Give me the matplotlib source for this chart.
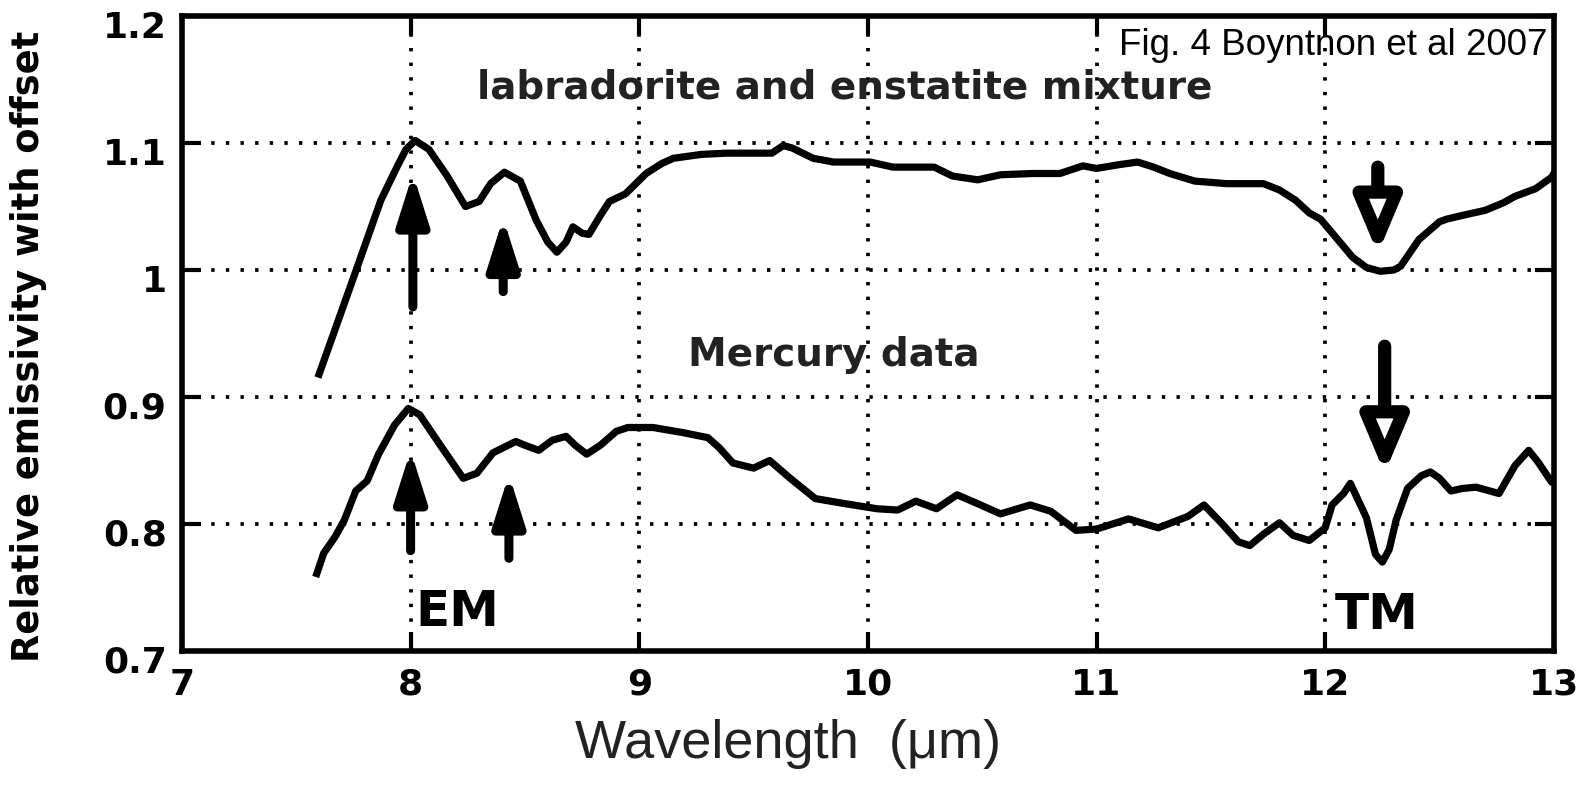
import matplotlib
matplotlib.use("Agg")
import matplotlib.pyplot as plt
from matplotlib.transforms import ScaledTranslation

# emissivity spectra (with offset)
mix_wl = [7.60, 7.77, 7.87, 7.94, 7.98, 8.02, 8.08, 8.16, 8.24, 8.30, 8.35, 8.41,
          8.48, 8.55, 8.60, 8.64, 8.68, 8.71, 8.75, 8.78, 8.83, 8.87, 8.94, 9.03,
          9.10, 9.15, 9.27, 9.38, 9.50, 9.58, 9.63, 9.67, 9.76, 9.85, 10.01, 10.11,
          10.29, 10.37, 10.48, 10.58, 10.72, 10.84, 10.94, 11.00, 11.10, 11.18, 11.25,
          11.32, 11.43, 11.57, 11.73, 11.80, 11.87, 11.93, 11.98, 12.05, 12.12, 12.18,
          12.24, 12.30, 12.33, 12.41, 12.50, 12.53, 12.60, 12.70, 12.78, 12.83, 12.92,
          12.99, 13.00]
mix_em = [0.918, 1.004, 1.055, 1.081, 1.095, 1.102, 1.095, 1.074, 1.050, 1.054, 1.068, 1.077,
          1.070, 1.039, 1.022, 1.014, 1.022, 1.034, 1.029, 1.028, 1.043, 1.054, 1.060, 1.076,
          1.084, 1.088, 1.091, 1.092, 1.092, 1.092, 1.098, 1.096, 1.088, 1.085, 1.085, 1.081,
          1.081, 1.074, 1.071, 1.075, 1.076, 1.076, 1.082, 1.080, 1.083, 1.085, 1.081,
          1.076, 1.070, 1.068, 1.068, 1.063, 1.055, 1.045, 1.040, 1.025, 1.010, 1.002,
          0.999, 1.000, 1.003, 1.024, 1.038, 1.040, 1.043, 1.047, 1.053, 1.058, 1.064,
          1.073, 1.076]

merc_wl = [7.59, 7.62, 7.67, 7.71, 7.76, 7.81, 7.86, 7.93, 7.99, 8.04, 8.13, 8.23,
           8.29, 8.36, 8.46, 8.50, 8.56, 8.62, 8.68, 8.72, 8.77, 8.83, 8.90, 8.95,
           9.06, 9.19, 9.30, 9.35, 9.41, 9.50, 9.57, 9.66, 9.77, 9.90, 10.04, 10.13,
           10.21, 10.30, 10.39, 10.48, 10.58, 10.71, 10.80, 10.91, 11.00, 11.14, 11.27,
           11.40, 11.47, 11.55, 11.62, 11.67, 11.73, 11.80, 11.86, 11.93, 12.00, 12.03,
           12.08, 12.11, 12.18, 12.22, 12.25, 12.28, 12.31, 12.36, 12.42, 12.46, 12.50,
           12.55, 12.60, 12.66, 12.72, 12.76, 12.83, 12.89, 12.93, 12.99, 13.00]
merc_em = [0.761, 0.777, 0.790, 0.803, 0.826, 0.834, 0.855, 0.878, 0.891, 0.886, 0.862, 0.836,
           0.840, 0.856, 0.865, 0.862, 0.858, 0.866, 0.869, 0.862, 0.855, 0.862, 0.873, 0.876,
           0.876, 0.872, 0.868, 0.860, 0.848, 0.844, 0.850, 0.836, 0.820, 0.816, 0.812, 0.811,
           0.818, 0.812, 0.823, 0.816, 0.808, 0.815, 0.810, 0.795, 0.796, 0.804, 0.797,
           0.806, 0.815, 0.800, 0.786, 0.783, 0.792, 0.801, 0.791, 0.787, 0.797, 0.815,
           0.824, 0.832, 0.805, 0.776, 0.770, 0.780, 0.803, 0.828, 0.838, 0.841, 0.836,
           0.826, 0.828, 0.829, 0.826, 0.824, 0.846, 0.858, 0.849, 0.833, 0.835]

# feature arrows: x, tail y, tip y
em_arrows = [(8.01, 0.971, 1.076), (8.405, 0.983, 1.041),
             (8.00, 0.779, 0.858), (8.43, 0.773, 0.839)]
tm_arrows = [(12.23, 1.081, 1.013), (12.26, 0.940, 0.840)]

xticks = [7, 8, 9, 10, 11, 12, 13]
yticks = [0.7, 0.8, 0.9, 1.0, 1.1, 1.2]
ytick_labels = ["0.7", "0.8", "0.9", "1", "1.1", "1.2"]

plt.rcParams['font.family'] = ['Liberation Sans', 'DejaVu Sans']
BOLD = ['DejaVu Sans']

fig = plt.figure(figsize=(15.96, 7.85), dpi=100)
ax = fig.add_axes([0.1140, 0.1707, 0.8596, 0.8089])

ax.plot(mix_wl, mix_em, color='black', lw=5.2, solid_joinstyle='round', zorder=3)
ax.plot(merc_wl, merc_em, color='black', lw=5.2, solid_joinstyle='round', zorder=3)

for x, y0, y1 in em_arrows:
    ax.annotate('', xy=(x, y1), xytext=(x, y0),
                arrowprops=dict(arrowstyle='-|>,head_length=3.0,head_width=0.95',
                                mutation_scale=10, lw=6.5, color='black',
                                shrinkA=0, shrinkB=0), zorder=4)
for x, y0, y1 in tm_arrows:
    ax.annotate('', xy=(x, y1), xytext=(x, y0),
                arrowprops=dict(arrowstyle='-|>,head_length=3.2,head_width=1.35',
                                mutation_scale=10, lw=9.5, fc='white', ec='black',
                                shrinkA=0, shrinkB=0), zorder=4)

ax.text(9.90, 1.144, 'labradorite and enstatite mixture', fontsize=28,
        family=BOLD, fontweight='bold', ha='center', va='center', color='#222222')
ax.text(9.85, 0.933, 'Mercury data', fontsize=28, family=BOLD, fontweight='bold',
        ha='center', va='center', color='#222222')
ax.text(8.02, 0.731, 'EM', fontsize=36, family=BOLD, fontweight='bold',
        ha='left', va='center')
ax.text(12.04, 0.728, 'TM', fontsize=36, family=BOLD, fontweight='bold',
        ha='left', va='center')

ax.set_xlim(7, 13)
ax.set_ylim(0.7, 1.2)
ax.set_xticks(xticks)
ax.set_yticks(yticks)
ax.set_yticklabels(ytick_labels)
ax.grid(True, color='black', linestyle=(0, (0.9, 3.0)), lw=2.7)
ax.tick_params(direction='in', length=14, width=3, top=True, right=True,
               labelsize=26)
ax.tick_params(axis='y', pad=11)
ax.tick_params(axis='x', pad=12)
for lab in ax.get_xticklabels() + ax.get_yticklabels():
    lab.set_family(BOLD)
    lab.set_fontweight('bold')
for lab in ax.get_yticklabels():
    lab.set_transform(lab.get_transform() + ScaledTranslation(0, -0.08, fig.dpi_scale_trans))
for sp in ax.spines.values():
    sp.set_linewidth(4)

fig.text(0.018, 0.559, 'Relative emissivity with offset', rotation=90,
         fontsize=26.5, family=BOLD, fontweight='bold', ha='center', va='center')
fig.text(0.494, 0.034, 'Wavelength  (\u03bcm)', fontsize=39, ha='center',
         va='baseline', color='#222222')
fig.text(0.9693, 0.930, 'Fig. 4 Boyntnon et al 2007', fontsize=26.5, ha='right',
         va='baseline')

fig.savefig('out.png', dpi=100)
